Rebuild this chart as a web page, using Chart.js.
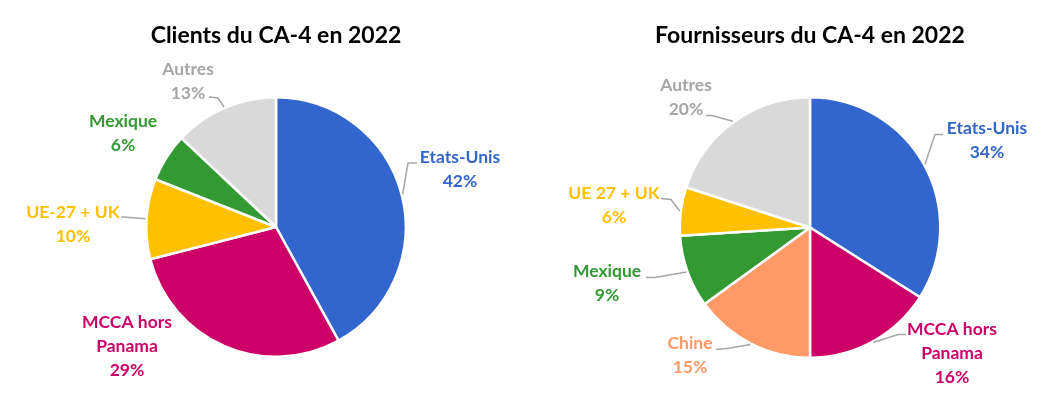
<!DOCTYPE html>
<html>
<head>
<meta charset="utf-8">
<script src="https://cdn.jsdelivr.net/npm/chart.js@4/dist/chart.umd.min.js"></script>
<style>
  html, body { margin: 0; padding: 0; background: #ffffff; }
  #wrap { position: relative; width: 1055px; height: 403px; overflow: hidden; }
  .box { position: absolute; top: 0; height: 403px; }
  #b1 { left: 0; width: 527px; }
  #b2 { left: 527px; width: 528px; }
</style>
</head>
<body>
<div id="wrap">
  <div class="box" id="b1"><canvas id="c1"></canvas></div>
  <div class="box" id="b2"><canvas id="c2"></canvas></div>
</div>
<script>
// ---- Data ----
const clientsTitle = 'Clients du CA-4 en 2022';
const clientsCategories = ['Etats-Unis', ['MCCA hors', 'Panama'], 'UE-27 + UK', 'Mexique', 'Autres'];
const clientsValues = [42, 29, 10, 6, 13];

const fournTitle = 'Fournisseurs du CA-4 en 2022';
const fournCategories = ['Etats-Unis', ['MCCA hors', 'Panama'], 'Chine', 'Mexique', 'UE 27 + UK', 'Autres'];
const fournValues = [34, 16, 15, 9, 6, 20];

// ---- Styles ----
const BLUE = '#3366CC', MAGENTA = '#CC0066', YELLOW = '#FFC000', GREEN = '#339933', GREY = '#D9D9D9', ORANGE = '#FF9966';
const clientsColors = [BLUE, MAGENTA, YELLOW, GREEN, GREY];
const clientsTextColors = ['#3366CC', '#CC0066', '#FFC000', '#339933', '#A6A6A6'];
const fournColors = [BLUE, MAGENTA, ORANGE, GREEN, YELLOW, GREY];
const fournTextColors = ['#3366CC', '#CC0066', '#FF9966', '#339933', '#FFC000', '#A6A6A6'];

// label placement relative to pie centre: text centre x, first-line y, leader knee & end
const clientsLabelLayout = [
  { tx: 184, ty: -70, leader: [[132, -64], [141, -64]] },
  { tx: -149, ty: 95, leader: null },
  { tx: -203, ty: -15, leader: [[-152, -10], [-155, -10]] },
  { tx: -153, ty: -106, leader: null },
  { tx: -88, ty: -158, leader: [[-58, -129], [-67, -130]] }
];
const fournLabelLayout = [
  { tx: 177, ty: -99, leader: [[125, -93], [133, -93]] },
  { tx: 142, ty: 102, leader: [[88, 107], [96, 107]] },
  { tx: -120, ty: 116, leader: [[-83, 121], [-94, 122]] },
  { tx: -203, ty: 44, leader: [[-155, 50], [-164, 50]] },
  { tx: -196, ty: -34, leader: [[-139, -28], [-149, -29]] },
  { tx: -124, ty: -142, leader: [[-98, -112], [-104, -112]] }
];

const FONT = 'Lato, "Open Sans", sans-serif';

const sliceLabels = {
  id: 'sliceLabels',
  afterDatasetsDraw(chart, args, opts) {
    const ctx = chart.ctx;
    const meta = chart.getDatasetMeta(0);
    const ds = chart.data.datasets[0];
    meta.data.forEach((arc, i) => {
      const p = arc.getProps(['x', 'y', 'startAngle', 'endAngle', 'outerRadius'], true);
      const mid = (p.startAngle + p.endAngle) / 2;
      const L = opts.layout[i];
      ctx.save();
      if (L.leader) {
        ctx.strokeStyle = '#A6A6A6';
        ctx.lineWidth = 1.5;
        ctx.beginPath();
        ctx.moveTo(p.x + Math.cos(mid) * (p.outerRadius + 1), p.y + Math.sin(mid) * (p.outerRadius + 1));
        L.leader.forEach(pt => ctx.lineTo(p.x + pt[0], p.y + pt[1]));
        ctx.stroke();
      }
      const name = chart.data.labels[i];
      const lines = (Array.isArray(name) ? name.slice() : [name]);
      lines.push(ds.data[i] + '%');
      ctx.fillStyle = opts.textColors[i];
      ctx.font = 'bold 17.5px ' + FONT;
      ctx.textAlign = 'center';
      ctx.textBaseline = 'middle';
      lines.forEach((t, k) => ctx.fillText(t, p.x + L.tx, p.y + L.ty + k * 24));
      ctx.restore();
    });
  }
};

function makePie(canvasId, title, cats, vals, colors, textColors, layout, padLeft, padBottom) {
  return new Chart(document.getElementById(canvasId), {
    type: 'pie',
    data: {
      labels: cats,
      datasets: [{ data: vals, backgroundColor: colors, borderColor: '#ffffff', borderWidth: 2.5 }]
    },
    options: {
      responsive: true,
      maintainAspectRatio: false,
      animation: false,
      layout: { padding: { left: padLeft, right: 0, top: 0, bottom: padBottom } },
      plugins: {
        legend: { display: false },
        tooltip: { enabled: false },
        title: {
          display: true,
          text: title,
          color: '#000000',
          font: { family: FONT, size: 23, weight: 'bold' },
          padding: { top: 22, bottom: 46.4 }
        },
        sliceLabels: { layout: layout, textColors: textColors }
      }
    },
    plugins: [sliceLabels]
  });
}

makePie('c1', clientsTitle, clientsCategories, clientsValues, clientsColors, clientsTextColors, clientsLabelLayout, 25, 45);
makePie('c2', fournTitle, fournCategories, fournValues, fournColors, fournTextColors, fournLabelLayout, 38, 44);
</script>
</body>
</html>
